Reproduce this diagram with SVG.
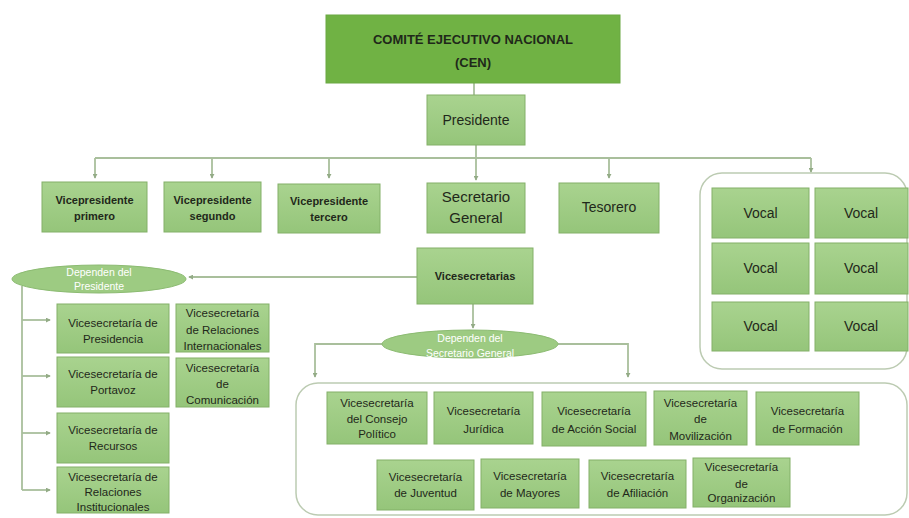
<svg xmlns="http://www.w3.org/2000/svg" width="909" height="518" viewBox="0 0 909 518">
<defs>
<linearGradient id="g" x1="0" y1="0" x2="0" y2="1">
<stop offset="0" stop-color="#a9d38f"/>
<stop offset="1" stop-color="#95c57a"/>
</linearGradient>
<marker id="ar" viewBox="0 0 6 6" refX="5" refY="3" markerWidth="5" markerHeight="5" orient="auto" markerUnits="userSpaceOnUse">
<path d="M0,0 L6,3 L0,6 z" fill="#93ab86"/>
</marker>
<style>
.bx{fill:url(#g);stroke:#83b069;stroke-width:1}
.cen{fill:#70b244;stroke:#6aa843;stroke-width:1}
.el{fill:#9dcb82;stroke:#8cbb72;stroke-width:1}
.ct{fill:#fff;stroke:#bccbb2;stroke-width:1.5}
.t{font-family:"Liberation Sans",Arial,sans-serif;fill:#1f281a;text-anchor:middle}
.s11{font-size:11px;font-weight:bold}
.s12{font-size:11.5px}
.s14{font-size:14px}
.s15{font-size:15px}
.w{fill:#ffffff;font-size:10.5px}
.ln{fill:none;stroke:#a9bf9c;stroke-width:1.8}
.la{fill:none;stroke:#a9bf9c;stroke-width:1.8;marker-end:url(#ar)}
</style>
</defs>
<rect width="909" height="518" fill="#ffffff"/>

<g id="containers">
<rect class="ct" x="700" y="173" width="207" height="196" rx="22"/>
<rect class="ct" x="296" y="383" width="611" height="132" rx="22"/>
</g>

<g id="connectors">
<line class="ln" x1="474" y1="83" x2="474" y2="95"/>
<line class="ln" x1="476" y1="145" x2="476" y2="158"/>
<line class="ln" x1="95" y1="158" x2="811" y2="158"/>
<line class="la" x1="95" y1="158" x2="95" y2="178"/>
<line class="la" x1="212" y1="158" x2="212" y2="178"/>
<line class="la" x1="329" y1="158" x2="329" y2="178"/>
<line class="la" x1="476" y1="158" x2="476" y2="180"/>
<line class="la" x1="609" y1="158" x2="609" y2="178"/>
<line class="la" x1="811" y1="158" x2="811" y2="172"/>
<line class="la" x1="417" y1="277" x2="189" y2="277"/>
<line class="la" x1="473" y1="304" x2="473" y2="328"/>
<polyline class="la" points="383,344 315,344 315,377"/>
<polyline class="la" points="558,344 628,344 628,377"/>
<line class="ln" x1="22" y1="286" x2="22" y2="490"/>
<line class="la" x1="22" y1="320" x2="50" y2="320"/>
<line class="la" x1="22" y1="376" x2="50" y2="376"/>
<line class="la" x1="22" y1="433" x2="50" y2="433"/>
<line class="la" x1="22" y1="490" x2="50" y2="490"/>
</g>

<g id="cen">
<rect class="cen" x="326" y="15" width="294" height="68"/>
<text class="t" x="473" y="44" font-size="13" font-weight="bold" fill="#1c3012">COMITÉ EJECUTIVO NACIONAL</text>
<text class="t" x="473" y="67" font-size="13" font-weight="bold" fill="#1c3012">(CEN)</text>
</g>
<g id="presidente">
<rect class="bx" x="427" y="95" width="98" height="50"/>
<text class="t s14" x="476" y="125">Presidente</text>
</g>

<g id="vp1">
<rect class="bx" x="42" y="182" width="105" height="50"/>
<text class="t s11" x="94.5" y="204">Vicepresidente</text>
<text class="t s11" x="94.5" y="220">primero</text>
</g>
<g id="vp2">
<rect class="bx" x="164" y="182" width="97" height="50"/>
<text class="t s11" x="212.5" y="204">Vicepresidente</text>
<text class="t s11" x="212.5" y="220">segundo</text>
</g>
<g id="vp3">
<rect class="bx" x="278" y="184" width="102" height="49"/>
<text class="t s11" x="329" y="205">Vicepresidente</text>
<text class="t s11" x="329" y="221">tercero</text>
</g>
<g id="secretario">
<rect class="bx" x="427" y="183" width="98" height="50"/>
<text class="t s15" x="476" y="202">Secretario</text>
<text class="t s15" x="476" y="223">General</text>
</g>
<g id="tesorero">
<rect class="bx" x="559" y="183" width="100" height="50"/>
<text class="t s14" x="609" y="212">Tesorero</text>
</g>

<g id="vocal1"><rect class="bx" x="712" y="188" width="97" height="50"/><text class="t s14" x="760.5" y="218">Vocal</text></g>
<g id="vocal2"><rect class="bx" x="815" y="188" width="93" height="50"/><text class="t s14" x="861" y="218">Vocal</text></g>
<g id="vocal3"><rect class="bx" x="712" y="243" width="97" height="51"/><text class="t s14" x="760.5" y="273">Vocal</text></g>
<g id="vocal4"><rect class="bx" x="815" y="243" width="93" height="51"/><text class="t s14" x="861" y="273">Vocal</text></g>
<g id="vocal5"><rect class="bx" x="712" y="302" width="97" height="49"/><text class="t s14" x="760.5" y="331">Vocal</text></g>
<g id="vocal6"><rect class="bx" x="815" y="302" width="93" height="49"/><text class="t s14" x="861" y="331">Vocal</text></g>

<g id="vicesecretarias">
<rect class="bx" x="417" y="248" width="116" height="56"/>
<text class="t s11" x="475" y="280">Vicesecretarias</text>
</g>

<g id="dep-presidente">
<ellipse class="el" cx="99" cy="279" rx="87" ry="14"/>
<text class="t w" x="99" y="276">Dependen del</text>
<text class="t w" x="99" y="290">Presidente</text>
</g>
<g id="dep-secretario">
<ellipse class="el" cx="470" cy="344" rx="88" ry="14"/>
<text class="t w" x="470" y="342">Dependen del</text>
<text class="t w" x="470" y="357">Secretario General</text>
</g>

<g id="vs-presidencia">
<rect class="bx" x="57" y="304" width="112" height="49"/>
<text class="t s12" x="113" y="327">Vicesecretaría de</text>
<text class="t s12" x="113" y="343">Presidencia</text>
</g>
<g id="vs-portavoz">
<rect class="bx" x="57" y="357" width="112" height="50"/>
<text class="t s12" x="113" y="378">Vicesecretaría de</text>
<text class="t s12" x="113" y="394">Portavoz</text>
</g>
<g id="vs-recursos">
<rect class="bx" x="57" y="413" width="112" height="50"/>
<text class="t s12" x="113" y="434">Vicesecretaría de</text>
<text class="t s12" x="113" y="450">Recursos</text>
</g>
<g id="vs-relinst">
<rect class="bx" x="57" y="467" width="112" height="46"/>
<text class="t s12" x="113" y="481">Vicesecretaría de</text>
<text class="t s12" x="113" y="496">Relaciones</text>
<text class="t s12" x="113" y="511">Institucionales</text>
</g>
<g id="vs-relint">
<rect class="bx" x="176" y="304" width="93" height="48"/>
<text class="t s12" x="222.5" y="317">Vicesecretaría</text>
<text class="t s12" x="222.5" y="334">de Relaciones</text>
<text class="t s12" x="222.5" y="350">Internacionales</text>
</g>
<g id="vs-comunicacion">
<rect class="bx" x="176" y="358" width="93" height="49"/>
<text class="t s12" x="222.5" y="372">Vicesecretaría</text>
<text class="t s12" x="222.5" y="388">de</text>
<text class="t s12" x="222.5" y="404">Comunicación</text>
</g>

<g id="vs-consejo">
<rect class="bx" x="327" y="392" width="100" height="52"/>
<text class="t s12" x="377" y="407">Vicesecretaría</text>
<text class="t s12" x="377" y="423">del Consejo</text>
<text class="t s12" x="377" y="438">Político</text>
</g>
<g id="vs-juridica">
<rect class="bx" x="434" y="392" width="99" height="52"/>
<text class="t s12" x="483.5" y="415">Vicesecretaría</text>
<text class="t s12" x="483.5" y="433">Jurídica</text>
</g>
<g id="vs-accion">
<rect class="bx" x="542" y="392" width="104" height="54"/>
<text class="t s12" x="594" y="415">Vicesecretaría</text>
<text class="t s12" x="594" y="433">de Acción Social</text>
</g>
<g id="vs-movilizacion">
<rect class="bx" x="654" y="391" width="93" height="54"/>
<text class="t s12" x="700.5" y="407">Vicesecretaría</text>
<text class="t s12" x="700.5" y="423">de</text>
<text class="t s12" x="700.5" y="440">Movilización</text>
</g>
<g id="vs-formacion">
<rect class="bx" x="756" y="392" width="103" height="53"/>
<text class="t s12" x="807.5" y="415">Vicesecretaría</text>
<text class="t s12" x="807.5" y="433">de Formación</text>
</g>
<g id="vs-juventud">
<rect class="bx" x="377" y="460" width="97" height="50"/>
<text class="t s12" x="425.5" y="481">Vicesecretaría</text>
<text class="t s12" x="425.5" y="497">de Juventud</text>
</g>
<g id="vs-mayores">
<rect class="bx" x="481" y="459" width="98" height="49"/>
<text class="t s12" x="530" y="480">Vicesecretaría</text>
<text class="t s12" x="530" y="497">de Mayores</text>
</g>
<g id="vs-afiliacion">
<rect class="bx" x="589" y="460" width="97" height="48"/>
<text class="t s12" x="637.5" y="480">Vicesecretaría</text>
<text class="t s12" x="637.5" y="497">de Afiliación</text>
</g>
<g id="vs-organizacion">
<rect class="bx" x="693" y="458" width="97" height="49"/>
<text class="t s12" x="741.5" y="471">Vicesecretaría</text>
<text class="t s12" x="741.5" y="488">de</text>
<text class="t s12" x="741.5" y="502">Organización</text>
</g>
</svg>
